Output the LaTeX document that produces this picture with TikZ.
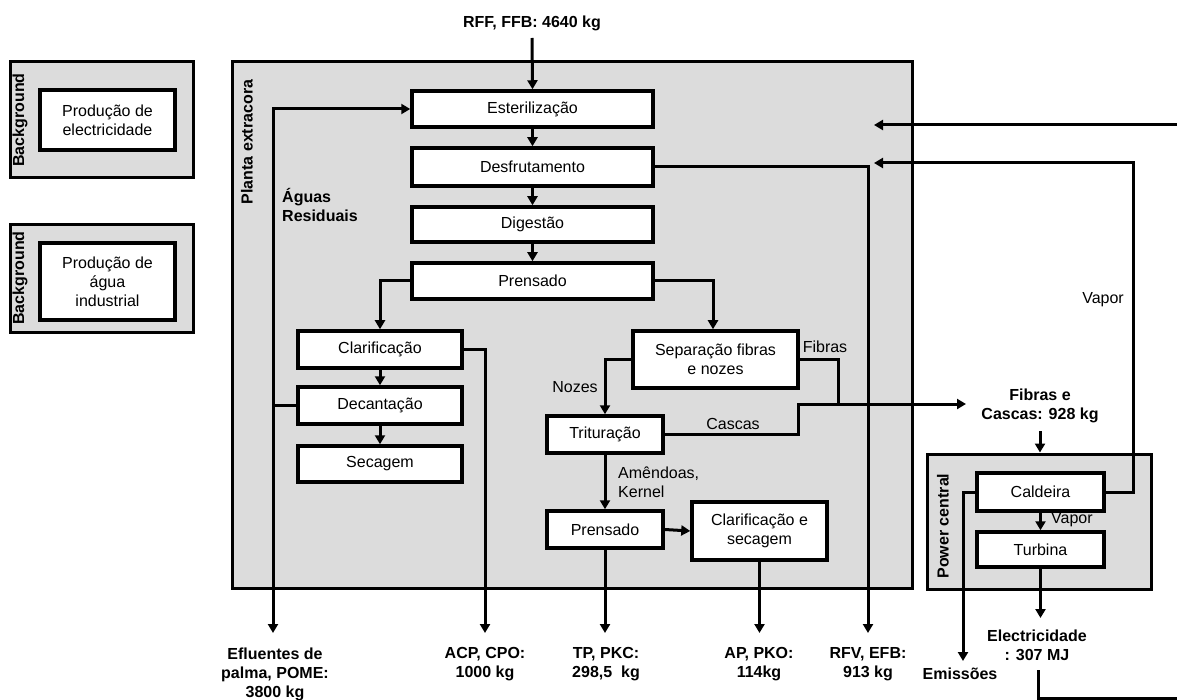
\documentclass[tikz,border=0pt]{standalone}
\usepackage{fontspec}
\setmainfont{Liberation Sans}
\usetikzlibrary{arrows.meta}
\definecolor{panel}{HTML}{DCDCDC}
\begin{document}
\begin{tikzpicture}[x=1pt,y=-1pt,
  every node/.style={font=\fontsize{16}{19}\selectfont, inner sep=0pt},
  proc/.style={draw, line width=3.5pt, fill=white, align=center},
  panelbox/.style={draw, line width=3pt, fill=panel},
  conn/.style={line width=3pt},
  arr/.style={conn, -{Triangle[length=9pt,width=10pt]}},
  lbl/.style={font=\fontsize{16}{19}\selectfont\bfseries, align=center},
  side/.style={font=\fontsize{16}{19}\selectfont\bfseries, rotate=90},
  note/.style={font=\fontsize{16}{19}\selectfont, align=left}]
\useasboundingbox (0,0) rectangle (1177,700);

% background boxes
\node[panelbox, minimum width=183pt, minimum height=116pt] (bg1) at (101.5,120) {};
\node[proc, minimum width=135pt, minimum height=60pt] (pe) at (107.5,120) {Produção de\\electricidade};
\node[side] (bgt1) at (20,120) {Background};
\node[panelbox, minimum width=183pt, minimum height=107pt] (bg2) at (101.5,278.5) {};
\node[proc, minimum width=135pt, minimum height=77pt] (pa) at (107.5,281.5) {Produção de\\água\\industrial};
\node[side] (bgt2) at (20,278) {Background};

% containers
\node[panelbox, minimum width=680pt, minimum height=526pt] (planta) at (572,325) {};
\node[side] (plt) at (247,142) {Planta extracora};
\node[panelbox, minimum width=224pt, minimum height=135pt] (pc) at (1039,521.5) {};
\node[side] (pct) at (943,526) {Power central};

% process boxes
\node[proc, minimum width=241pt, minimum height=36pt] (est) at (532.5,109) {Esterilização};
\node[proc, minimum width=241pt, minimum height=38pt] (desf) at (532.5,167) {Desfrutamento};
\node[proc, minimum width=241pt, minimum height=35pt] (dig) at (532.5,224.5) {Digestão};
\node[proc, minimum width=241pt, minimum height=36pt] (prens) at (532.5,281) {Prensado};
\node[proc, minimum width=164pt, minimum height=37pt] (clar) at (380,349.5) {Clarificação};
\node[proc, minimum width=164pt, minimum height=37pt] (dec) at (380,405.5) {Decantação};
\node[proc, minimum width=164pt, minimum height=36pt] (sec) at (380,464) {Secagem};
\node[proc, minimum width=165pt, minimum height=57pt] (sep) at (715.5,359.5) {Separação fibras\\e nozes};
\node[proc, minimum width=116pt, minimum height=37pt] (trit) at (605,434.5) {Trituração};
\node[proc, minimum width=116pt, minimum height=37pt] (pr2) at (605,529.5) {Prensado};
\node[proc, minimum width=135pt, minimum height=58pt] (cs) at (759.5,531) {Clarificação e\\secagem};
\node[proc, minimum width=127pt, minimum height=38pt] (cald) at (1040.5,492) {Caldeira};
\node[proc, minimum width=127pt, minimum height=35pt] (turb) at (1040.5,549.5) {Turbina};

% labels
\node[lbl] (rff) at (532,23) {RFF, FFB: 4640 kg};
\node[lbl, align=left, anchor=west] (aguas) at (282,205) {Águas\\Residuais};
\node[note] (nozes) at (575,387) {Nozes};
\node[note, anchor=west] (amen) at (618,482) {Amêndoas,\\Kernel};
\node[note] (fibras) at (825,347) {Fibras};
\node[note] (cascas) at (733,424) {Cascas};
\node[lbl] (fc) at (1040,406) {Fibras e\\Cascas: 928 kg};
\node[note, anchor=west] (vap1) at (1051,520) {Vapor};
\node[note, anchor=east] (vap2) at (1124,300) {Vapor};
\node[lbl] (eflu) at (275,674) {Efluentes de\\palma, POME:\\3800 kg};
\node[lbl] (acp) at (485,664) {ACP, CPO:\\1000 kg};
\node[lbl] (tp) at (606,664) {TP, PKC:\\298,5~ kg};
\node[lbl] (ap) at (759,664) {AP, PKO:\\114kg};
\node[lbl] (rfv) at (868,664) {RFV, EFB:\\913 kg};
\node[lbl] (emi) at (960,674) {Emissões};
\node[lbl] (elec) at (1037,645) {Electricidade\\: 307 MJ};

% coordinates
\coordinate (rffOut) at (532,38);
\coordinate (aw) at (273,405.5);
\coordinate (eflEnd) at (273,633);
\coordinate (acpEnd) at (485,633);
\coordinate (tpEnd) at (605,633);
\coordinate (apEnd) at (759.5,633);
\coordinate (rfvEnd) at (868,633);
\coordinate (cUp) at (798,404);
\coordinate (fJoin) at (838,404);
\coordinate (fcEnd) at (966,404);
\coordinate (fcOut) at (1040,431);
\coordinate (vapTop) at (1133,163);
\coordinate (vapEnd) at (874,163);
\coordinate (inR) at (1177,125);
\coordinate (inEnd) at (874,125);
\coordinate (emEnd) at (963,661);
\coordinate (elEnd) at (1040.5,618);
\coordinate (brTop) at (1038,670);
\coordinate (brCorner) at (1038,698);
\coordinate (brEnd) at (1177,698);

% connectors
\draw[arr] (rffOut) -- (est.north);
\draw[arr] (est.south) -- (desf.north);
\draw[arr] (desf.south) -- (dig.north);
\draw[arr] (dig.south) -- (prens.north);
\draw[arr] (prens.west) -| (clar.north);
\draw[arr] (prens.east) -| ([xshift=-2.5pt]sep.north);
\draw[arr] (clar.south) -- (dec.north);
\draw[arr] (dec.south) -- (sec.north);
\draw[arr] (dec.west) -- (aw) |- (est.west);
\draw[arr] (aw) -- (eflEnd);
\draw[arr] (clar.east) -| (acpEnd);
\draw[arr] (desf.east) -| (rfvEnd);
\draw[arr] (sep.west) -| (trit.north);
\draw[arr] (trit.south) -- (pr2.north);
\draw[arr] (pr2.east) -- (cs.west);
\draw[arr] (pr2.south) -- (tpEnd);
\draw[arr] (cs.south) -- (apEnd);
\draw[arr] (trit.east) -| (cUp) -- (fcEnd);
\draw[conn] (sep.east) -| (fJoin);
\draw[arr] (fcOut) -- (fcOut |- pc.north);
\draw[arr] (cald.south) -- (turb.north);
\draw[arr] (cald.east) -| (vapTop) -- (vapEnd);
\draw[arr] (inR) -- (inEnd);
\draw[arr] (cald.west) -| (emEnd);
\draw[arr] (turb.south) -- (elEnd);
\draw[conn] (brTop) -- (brCorner) -- (brEnd);
\end{tikzpicture}
\end{document}
